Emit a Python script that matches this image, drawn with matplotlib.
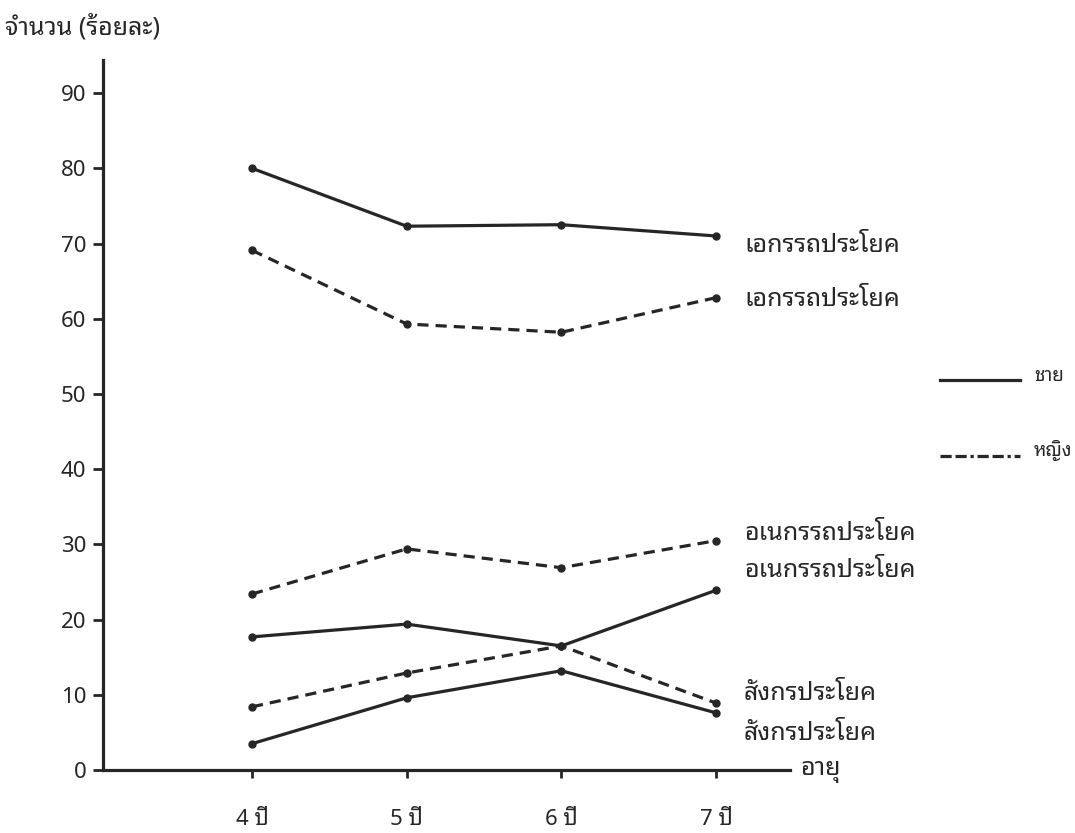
import matplotlib
matplotlib.use("Agg")
import matplotlib.pyplot as plt
from matplotlib import font_manager
from matplotlib.lines import Line2D

# ---------------- data ----------------
age_labels = ['4 ปี', '5 ปี', '6 ปี', '7 ปี']
age_pos = [4, 5, 6, 7]
yticks = [0, 10, 20, 30, 40, 50, 60, 70, 80, 90]

male_simple = [80.0, 72.3, 72.5, 71.0]       # เอกรรถประโยค ชาย
female_simple = [69.1, 59.3, 58.2, 62.8]     # เอกรรถประโยค หญิง
female_compound = [23.4, 29.4, 26.9, 30.5]   # อเนกรรถประโยค หญิง
male_compound = [17.7, 19.4, 16.5, 23.9]     # อเนกรรถประโยค ชาย
female_complex = [8.4, 12.9, 16.5, 8.9]      # สังกรประโยค หญิง
male_complex = [3.5, 9.6, 13.2, 7.6]         # สังกรประโยค ชาย

series_labels = ['เอกรรถประโยค', 'เอกรรถประโยค', 'อเนกรรถประโยค',
                 'อเนกรรถประโยค', 'สังกรประโยค', 'สังกรประโยค']
legend_labels = ['ชาย', 'หญิง']
ylabel_text = 'จำนวน (ร้อยละ)'
xlabel_text = 'อายุ'

# ---------------- fonts ----------------
available = {f.name for f in font_manager.fontManager.ttflist}
thai_font = None
for cand in ['Noto Sans Thai Looped', 'Sarabun', 'Noto Sans Thai', 'Athiti',
             'Bai Jamjuree', 'Anuphan', 'Chakra Petch']:
    if cand in available:
        thai_font = cand
        break
fam = [thai_font, 'DejaVu Sans'] if thai_font else ['DejaVu Sans']
plt.rcParams['font.family'] = fam

ink = '#262626'

fig = plt.figure(figsize=(10.75, 8.33), dpi=100)
fig.patch.set_facecolor('white')
ax = fig.add_axes([0.0958, 0.0756, 0.6391, 0.8524])

ax.set_xlim(3.037, 7.478)
ax.set_ylim(0, 94.4)

solid_kw = dict(color=ink, lw=2.3, marker='o', ms=5, solid_capstyle='round')
dash_kw = dict(color=ink, lw=2.3, marker='o', ms=5, linestyle=(0, (3.5, 2.2)))

ax.plot(age_pos, male_simple, **solid_kw)
ax.plot(age_pos, female_simple, **dash_kw)
ax.plot(age_pos, female_compound, **dash_kw)
ax.plot(age_pos, male_compound, **solid_kw)
ax.plot(age_pos, female_complex, **dash_kw)
ax.plot(age_pos, male_complex, **solid_kw)

# series labels at right end
label_off = [-1.2, -0.2, 1.0, 2.6, 1.3, -2.7]
last_vals = [male_simple[-1], female_simple[-1], female_compound[-1],
             male_compound[-1], female_complex[-1], male_complex[-1]]
for lab, v, off in zip(series_labels, last_vals, label_off):
    ax.text(7.18, v + off, lab, fontsize=18, color=ink, va='center',
            ha='left', clip_on=False)

# spines and ticks
for s in ['top', 'right']:
    ax.spines[s].set_visible(False)
for s in ['left', 'bottom']:
    ax.spines[s].set_linewidth(2.3)
    ax.spines[s].set_color(ink)

ax.set_yticks(yticks)
ax.set_yticklabels([str(v) for v in yticks])
ax.tick_params(axis='y', direction='out', length=7, width=2, color=ink,
               labelsize=16, labelcolor=ink, pad=5)
ax.set_xticks(age_pos)
ax.set_xticklabels(age_labels)
ax.tick_params(axis='x', direction='out', length=6, width=2, color=ink,
               labelsize=16, labelcolor=ink, pad=22)

# axis titles
fig.text(0.005, 1 - 27 / 833, ylabel_text, fontsize=18, color=ink,
         va='center', ha='left')
ax.text(1.015, 0, xlabel_text, transform=ax.transAxes, fontsize=18,
        color=ink, va='center', ha='left')

# legend drawn manually on the figure
W, H = 1075.0, 833.0
fig.add_artist(Line2D([940 / W, 1020 / W], [1 - 380 / H, 1 - 380 / H],
                      color=ink, lw=2.3))
fig.add_artist(Line2D([940 / W, 1020 / W], [1 - 456 / H, 1 - 456 / H],
                      color=ink, lw=2.3,
                      linestyle=(0, (3.5, 1.2, 3.5, 1.2, 1, 1.2))))
fig.text(1034 / W, 1 - 376 / H, legend_labels[0], fontsize=13.5, color=ink,
         va='center', ha='left')
fig.text(1034 / W, 1 - 450 / H, legend_labels[1], fontsize=13.5, color=ink,
         va='center', ha='left')

fig.savefig("out.png", dpi=100, facecolor='white')
